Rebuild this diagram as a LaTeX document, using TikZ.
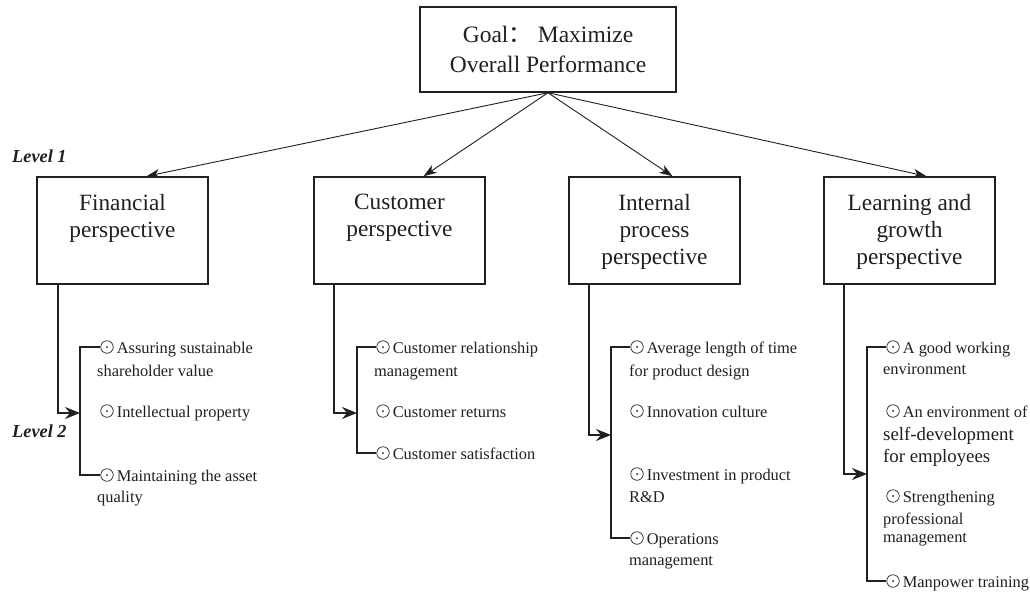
\documentclass[tikz,border=0pt]{standalone}
\usepackage{fontspec}
\setmainfont{Liberation Serif}
\newfontfamily\cjkfont{Noto Sans CJK SC}
\usetikzlibrary{arrows.meta,calc}
\definecolor{ink}{RGB}{35,31,32}
\newcommand{\bxt}[1]{\parbox[c][107pt][t]{171pt}{\centering\fontsize{23.3}{27}\selectfont\vspace*{17pt}#1}}
\tikzset{
  goalbox/.style={draw=ink, line width=1.5pt, minimum width=256pt, minimum height=85pt, align=center, inner sep=0pt, font=\fontsize{23.5}{30}\selectfont},
  lonebox/.style={draw=ink, line width=1.5pt, inner sep=0pt},
  toparrow/.style={draw=ink, line width=0.9pt, -{Stealth[length=13pt,width=9pt,inset=3.5pt]}},
  entry/.style={draw=ink, line width=1.6pt, -{Stealth[length=15pt,width=12pt,inset=5pt]}},
  bracket/.style={draw=ink, line width=1.6pt},
  dotc/.style={circle, draw=ink, line width=0.7pt, minimum size=12.5pt, inner sep=0pt,
    path picture={\fill[ink] (path picture bounding box.center) circle (1pt);}},
  itm/.style={inner sep=0pt, anchor=base west, text=ink, font=\fontsize{16.4}{23}\selectfont},
  bigitm/.style={inner sep=0pt, anchor=base west, text=ink, font=\fontsize{18.8}{23}\selectfont},
  lvl/.style={inner sep=0pt, anchor=base west, text=ink, font=\fontsize{18.3}{22}\selectfont\bfseries\itshape}
}
\begin{document}
\begin{tikzpicture}[x=1pt,y=-1pt,text=ink]
\useasboundingbox[fill=white] (0,0) rectangle (1030,592);

% goal and level-1 boxes
\node[goalbox] (goal) at (548,49.5) {Goal{\cjkfont ：} Maximize\\Overall Performance};
\node[lonebox] (fin) at (122.5,230.5) {\bxt{Financial\\perspective}};
\node[lonebox] (cus) at (399.5,230.5) {\bxt{Customer\\perspective}};
\node[lonebox] (int) at (654.5,230.5) {\bxt{Internal\\process\\perspective}};
\node[lonebox] (lrn) at (909.5,230.5) {\bxt{Learning and\\growth\\perspective}};

\draw[toparrow] (goal.south) -- ($(fin.north)+(24,0)$);
\draw[toparrow] (goal.south) -- ($(cus.north)+(24,0)$);
\draw[toparrow] (goal.south) -- ($(int.north)+(18,0)$);
\draw[toparrow] (goal.south) -- ($(lrn.north)+(17,0)$);

\node[lvl] (lv1) at (12,162) {Level 1};
\node[lvl] (lv2) at (12,437.5) {Level 2};

% ---------- Financial ----------
\node[dotc] (f1c) at (107,347) {};
\node[dotc] (f2c) at (107,411) {};
\node[dotc] (f3c) at (107,475) {};
\node[itm] (f1a) at ($(f1c.east)+(3,6)$) {Assuring sustainable};
\node[itm] (f1b) at (97,376) {shareholder value};
\node[itm] (f2a) at ($(f2c.east)+(3,6)$) {Intellectual property};
\node[itm] (f3a) at ($(f3c.east)+(3,6)$) {Maintaining the asset};
\node[itm] (f3b) at (97,502) {quality};
\coordinate (fb) at (80,413);
\draw[entry] ($(fin.south west)+(22,0)$) |- (fb);
\draw[bracket] (f1c.west) -| (fb) |- (f3c.west);

% ---------- Customer ----------
\node[dotc] (c1c) at (383,347) {};
\node[dotc] (c2c) at (383,411) {};
\node[dotc] (c3c) at (383,453) {};
\node[itm] (c1a) at ($(c1c.east)+(3,6)$) {Customer relationship};
\node[itm] (c1b) at (374,376) {management};
\node[itm] (c2a) at ($(c2c.east)+(3,6)$) {Customer returns};
\node[itm] (c3a) at ($(c3c.east)+(3,6)$) {Customer satisfaction};
\coordinate (cb) at (357,413);
\draw[entry] ($(cus.south west)+(21,0)$) |- (cb);
\draw[bracket] (c1c.west) -| (cb) |- (c3c.west);

% ---------- Internal process ----------
\node[dotc] (i1c) at (637,347) {};
\node[dotc] (i2c) at (637,411) {};
\node[dotc] (i3c) at (637,474) {};
\node[dotc] (i4c) at (637,538) {};
\node[itm] (i1a) at ($(i1c.east)+(3,6)$) {Average length of time};
\node[itm] (i1b) at (629,376) {for product design};
\node[itm] (i2a) at ($(i2c.east)+(3,6)$) {Innovation culture};
\node[itm] (i3a) at ($(i3c.east)+(3,6)$) {Investment in product};
\node[itm] (i3b) at (629,502) {R\&D};
\node[itm] (i4a) at ($(i4c.east)+(3,6)$) {Operations};
\node[itm] (i4b) at (629,565) {management};
\coordinate (ib) at (611,435);
\draw[entry] ($(int.south west)+(21,0)$) |- (ib);
\draw[bracket] (i1c.west) -| (ib) |- (i4c.west);

% ---------- Learning and growth ----------
\node[dotc] (l1c) at (893,347) {};
\node[dotc] (l2c) at (893,411) {};
\node[dotc] (l3c) at (893,496) {};
\node[dotc] (l4c) at (893,581) {};
\node[itm] (l1a) at ($(l1c.east)+(3,6)$) {A good working};
\node[itm] (l1b) at (883,374) {environment};
\node[itm] (l2a) at ($(l2c.east)+(3,6)$) {An environment of};
\node[bigitm] (l2b) at (883,440) {self-development};
\node[bigitm] (l2d) at (883,462) {for employees};
\node[itm] (l3a) at ($(l3c.east)+(3,6)$) {Strengthening};
\node[itm] (l3b) at (883,524) {professional};
\node[itm] (l3d) at (883,542) {management};
\node[itm] (l4a) at ($(l4c.east)+(3,6)$) {Manpower training};
\coordinate (lb) at (867,474);
\draw[entry] ($(lrn.south west)+(21,0)$) |- (lb);
\draw[bracket] (l1c.west) -| (lb) |- (l4c.west);
\end{tikzpicture}
\end{document}
